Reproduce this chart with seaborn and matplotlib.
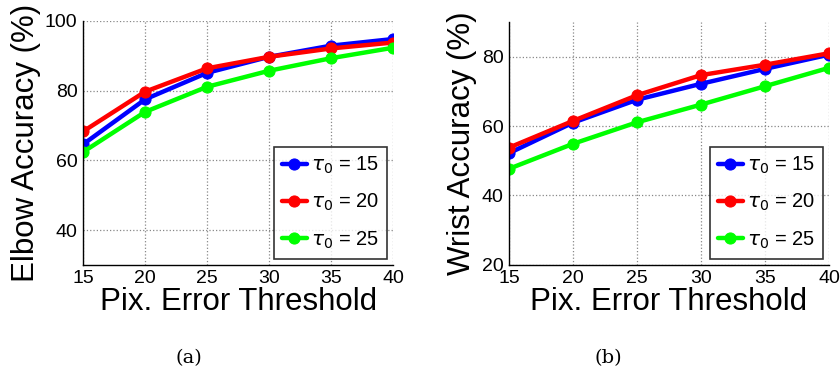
import matplotlib
matplotlib.use("Agg")
import matplotlib.pyplot as plt
import seaborn as sns

# data
thresholds = [15, 20, 25, 30, 35, 40]
taus = [15, 20, 25]
colors = ["#0000ff", "#ff0000", "#00ff00"]

elbow_t15 = [64.6, 77.5, 85.1, 89.7, 92.9, 94.8]
elbow_t20 = [68.3, 79.7, 86.4, 89.7, 92.1, 93.8]
elbow_t25 = [62.4, 73.9, 81.1, 85.7, 89.3, 92.3]

wrist_t15 = [52.2, 61.0, 67.6, 72.2, 76.5, 80.6]
wrist_t20 = [53.8, 61.5, 68.9, 74.7, 77.7, 81.0]
wrist_t25 = [47.7, 54.9, 61.1, 66.2, 71.5, 76.8]

sns.set_style("white")
plt.rcParams["font.family"] = ["Liberation Sans", "DejaVu Sans"]
plt.rcParams["mathtext.fontset"] = "dejavusans"
plt.rcParams["text.color"] = "black"
plt.rcParams["axes.labelcolor"] = "black"
plt.rcParams["xtick.color"] = "black"
plt.rcParams["ytick.color"] = "black"

fig = plt.figure(figsize=(8.4, 3.8), dpi=100)
ax_a = fig.add_axes([0.099, 0.303, 0.369, 0.642])
ax_b = fig.add_axes([0.606, 0.303, 0.381, 0.639])


def draw(ax, series, ylabel, ylim, yticks):
    for vals, tau, c in zip(series, taus, colors):
        sns.lineplot(x=thresholds, y=vals, ax=ax, color=c, marker="o",
                     markersize=8, markeredgecolor=c, linewidth=3.2,
                     label=rf"$\tau_0$ = {tau}")
    ax.set_xlim(15, 40)
    ax.set_ylim(*ylim)
    ax.set_xticks(thresholds)
    ax.set_yticks(yticks)
    ax.grid(True, linestyle=":", color="#888888", linewidth=0.9)
    for s in ["top", "right"]:
        ax.spines[s].set_visible(False)
    for s in ["left", "bottom"]:
        ax.spines[s].set_color("black")
        ax.spines[s].set_linewidth(1.0)
    ax.tick_params(labelsize=14, length=0, pad=4)
    ax.set_xlabel("Pix. Error Threshold", fontsize=22.5, labelpad=0)
    ax.set_ylabel(ylabel, fontsize=22.5, labelpad=3)
    leg = ax.legend(loc="lower right", fontsize=14.5, frameon=True,
                    fancybox=False, edgecolor="black", handlelength=1.25,
                    borderpad=0.4, labelspacing=0.8, handletextpad=0.2,
                    borderaxespad=0.3)
    leg.get_frame().set_linewidth(1.2)


draw(ax_a, [elbow_t15, elbow_t20, elbow_t25], "Elbow Accuracy (%)",
     (30, 100), [40, 60, 80, 100])
draw(ax_b, [wrist_t15, wrist_t20, wrist_t25], "Wrist Accuracy (%)",
     (20, 90), [20, 40, 60, 80])

fig.text(0.225, 0.045, "(a)", fontsize=14, family="DejaVu Serif", ha="center")
fig.text(0.724, 0.045, "(b)", fontsize=14, family="DejaVu Serif", ha="center")

fig.savefig("out.png", dpi=100)
